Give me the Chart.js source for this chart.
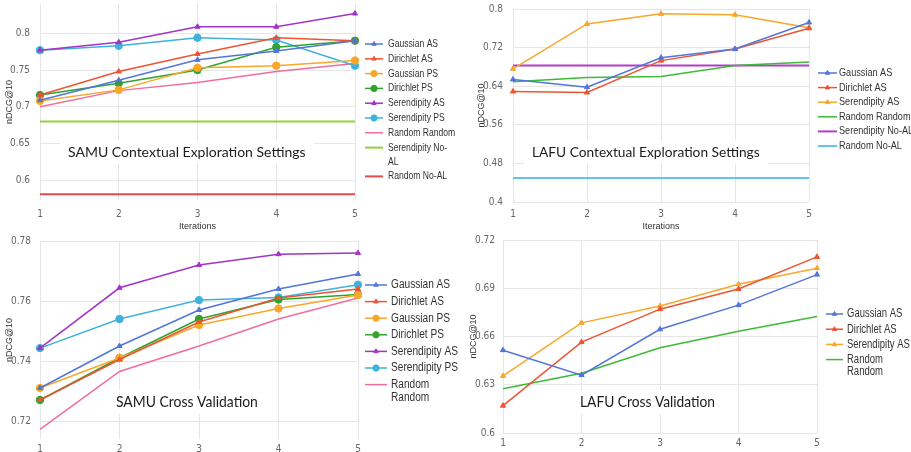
<!DOCTYPE html>
<html>
<head>
<meta charset="utf-8">
<script src="https://cdn.jsdelivr.net/npm/chart.js@4/dist/chart.umd.min.js"></script>
<style>
    html, body { margin: 0; padding: 0; background: #fff; }
    #wrap { position: relative; width: 911px; height: 452px; overflow: hidden; }
    .panel { position: absolute; }
    .panel canvas { display: block; }
</style>
</head>
<body>
<div id="wrap">
    <div class="panel" style="left:0;top:0"><canvas id="c1" width="460" height="232"></canvas></div>
    <div class="panel" style="left:460px;top:0"><canvas id="c2" width="451" height="232"></canvas></div>
    <div class="panel" style="left:0;top:232px"><canvas id="c3" width="460" height="220"></canvas></div>
    <div class="panel" style="left:460px;top:232px"><canvas id="c4" width="451" height="220"></canvas></div>
</div>
<script>
/* nDCG@10 over active learning iterations — 4 panels */

const iterations = ['1', '2', '3', '4', '5'];

// --- SAMU contextual exploration ---
const samuCtxTitle = 'SAMU Contextual Exploration Settings';
const samuCtxTicks = [0.6, 0.65, 0.7, 0.75, 0.8];
const samuCtxGaussianAS = [0.709, 0.736, 0.764, 0.776, 0.790];
const samuCtxDirichletAS = [0.716, 0.748, 0.772, 0.794, 0.790];
const samuCtxGaussianPS = [0.708, 0.723, 0.753, 0.756, 0.763];
const samuCtxDirichletPS = [0.716, 0.732, 0.750, 0.781, 0.790];
const samuCtxSerendipityAS = [0.777, 0.788, 0.809, 0.809, 0.827];
const samuCtxSerendipityPS = [0.777, 0.783, 0.794, 0.791, 0.756];
const samuCtxRandomRandom = [0.700, 0.722, 0.733, 0.748, 0.759];
const samuCtxSerendipityNoAL = [0.680, 0.680, 0.680, 0.680, 0.680];
const samuCtxRandomNoAL = [0.581, 0.581, 0.581, 0.581, 0.581];

// --- LAFU contextual exploration ---
const lafuCtxTitle = 'LAFU Contextual Exploration Settings';
const lafuCtxTicks = [0.4, 0.48, 0.56, 0.64, 0.72, 0.8];
const lafuCtxGaussianAS = [0.654, 0.638, 0.699, 0.717, 0.772];
const lafuCtxDirichletAS = [0.629, 0.627, 0.693, 0.717, 0.760];
const lafuCtxSerendipityAS = [0.676, 0.769, 0.790, 0.788, 0.761];
const lafuCtxRandomRandom = [0.649, 0.658, 0.660, 0.683, 0.690];
const lafuCtxSerendipityNoAL = [0.683, 0.683, 0.683, 0.683, 0.683];
const lafuCtxRandomNoAL = [0.450, 0.450, 0.450, 0.450, 0.450];

// --- SAMU cross validation ---
const samuCvTitle = 'SAMU Cross Validation';
const samuCvTicks = [0.72, 0.74, 0.76, 0.78];
const samuCvGaussianAS = [0.731, 0.745, 0.757, 0.764, 0.769];
const samuCvDirichletAS = [0.727, 0.7405, 0.753, 0.761, 0.764];
const samuCvGaussianPS = [0.731, 0.741, 0.752, 0.7575, 0.762];
const samuCvDirichletPS = [0.727, 0.741, 0.754, 0.7605, 0.7622];
const samuCvSerendipityAS = [0.7443, 0.7644, 0.772, 0.7756, 0.776];
const samuCvSerendipityPS = [0.7443, 0.754, 0.7603, 0.7612, 0.7654];
const samuCvRandomRandom = [0.7172, 0.7365, 0.745, 0.754, 0.761];

// --- LAFU cross validation ---
const lafuCvTitle = 'LAFU Cross Validation';
const lafuCvTicks = [0.6, 0.63, 0.66, 0.69, 0.72];
const lafuCvGaussianAS = [0.6515, 0.636, 0.6645, 0.6795, 0.6985];
const lafuCvDirichletAS = [0.617, 0.6565, 0.677, 0.6895, 0.7095];
const lafuCvSerendipityAS = [0.6355, 0.6685, 0.679, 0.6925, 0.7025];
const lafuCvRandomRandom = [0.6275, 0.6372, 0.653, 0.6632, 0.6725];

// --- Styling ---

Chart.defaults.font.family = "'Liberation Sans', Arial, Helvetica, sans-serif";
Chart.defaults.animation = false;

const TICK_FONT = "'Liberation Sans Narrow', 'DejaVu Sans Condensed', 'Liberation Sans', Arial, sans-serif";

const COL = {
    blue: '#5276d8',
    red: '#ec5432',
    orange: '#f8a72a',
    green: '#2ea42e',
    purple: '#a234c6',
    cyan: '#3fb2dc',
    pink: '#f06d9c',
    lime: '#93d040',
    crimson: '#e24c4c',
    green2: '#3cbb36',
    purple2: '#b43ccc',
    cyan2: '#62c4e6',
};

function series(label, data, color, marker, width) {
    return {
        label,
        data,
        borderColor: color,
        backgroundColor: color,
        borderWidth: width || 1.5,
        pointStyle: marker || 'circle',
        pointRadius: marker ? (marker === 'triangle' ? 3 : 3.7) : 0,
        pointHoverRadius: 0,
        pointBorderWidth: 1,
        tension: 0,
        clip: false,
    };
}

// squeezed text (the source figure is narrower than it is tall)
function squeezeText(ctx, text, x, y, sq) {
    ctx.save();
    ctx.translate(x, y);
    ctx.scale(sq, 1);
    ctx.fillText(text, 0, 0);
    ctx.restore();
}

// legend drawn at the right, line sample with marker in the middle
const sideLegend = {
    id: 'sideLegend',
    afterDraw(chart, args, opts) {
        const ctx = chart.ctx;
        ctx.save();
        ctx.font = opts.font;
        ctx.textBaseline = 'middle';
        let y = opts.y0;
        chart.data.datasets.forEach(ds => {
            ctx.strokeStyle = ds.borderColor;
            ctx.lineWidth = ds.borderWidth;
            ctx.beginPath();
            ctx.moveTo(opts.x0, y);
            ctx.lineTo(opts.x1, y);
            ctx.stroke();
            if (ds.pointRadius > 0) {
                ctx.fillStyle = ds.borderColor;
                ctx.lineWidth = 1;
                Chart.helpers.drawPoint(ctx, {
                    pointStyle: ds.pointStyle,
                    radius: ds.pointRadius * 0.85,
                    rotation: 0,
                    borderWidth: 1,
                }, (opts.x0 + opts.x1) / 2, y);
            }
            const lines = (opts.breaks && opts.breaks[ds.label]) || [ds.label];
            ctx.fillStyle = '#333';
            lines.forEach((t, i) => squeezeText(ctx, t, opts.tx, y + i * opts.wrapDy, opts.squeeze));
            y += opts.dy + (lines.length - 1) * opts.wrapDy;
        });
        ctx.restore();
    }
};

// caption sitting on the plot in a white box
const boxTitle = {
    id: 'boxTitle',
    beforeDatasetsDraw(chart, args, opts) {
        const ctx = chart.ctx;
        ctx.save();
        ctx.font = opts.font;
        const w = ctx.measureText(opts.text).width * opts.squeeze;
        ctx.fillStyle = '#fff';
        ctx.fillRect(opts.x - 8, opts.y - 12, w + 16, 24);
        ctx.fillStyle = '#1c1c1c';
        ctx.textBaseline = 'middle';
        squeezeText(ctx, opts.text, opts.x, opts.y, opts.squeeze);
        ctx.restore();
    }
};

function makeChart(id, p) {
    return new Chart(document.getElementById(id), {
        type: 'line',
        data: { labels: iterations, datasets: p.datasets },
        plugins: [boxTitle, sideLegend],
        options: {
            responsive: false,
            events: [],
            layout: { autoPadding: false, padding: { top: p.top, right: p.right, left: 0, bottom: 0 } },
            plugins: {
                legend: { display: false },
                tooltip: { enabled: false },
                boxTitle: p.title,
                sideLegend: p.legend,
            },
            scales: {
                x: {
                    type: 'category',
                    offset: false,
                    grid: { color: '#e6e6e6', drawTicks: false },
                    border: { display: false },
                    ticks: { color: '#666', font: { size: 10, family: TICK_FONT }, padding: p.xPad, maxRotation: 0 },
                    title: {
                        display: p.xTitle,
                        text: 'Iterations',
                        color: '#333',
                        font: { size: 9 },
                        padding: 0,
                    },
                    afterFit: s => {
                        s.height = p.xHeight;
                        s.paddingLeft = 0;
                        s.paddingRight = 0;
                    },
                },
                y: {
                    min: p.min,
                    max: p.max,
                    afterBuildTicks: s => { s.ticks = p.ticks.map(v => ({ value: v })); },
                    grid: { color: '#e6e6e6', drawTicks: false },
                    border: { display: false },
                    ticks: {
                        color: '#666',
                        font: { size: 10, family: TICK_FONT },
                        padding: p.yPad,
                        callback: v => String(+v.toFixed(2)),
                    },
                    title: {
                        display: true,
                        text: 'nDCG@10',
                        color: '#333',
                        font: { size: 9 },
                        padding: { top: p.yTitleOff, bottom: 0 },
                    },
                    afterFit: s => {
                        s.width = p.yWidth;
                        s.paddingTop = 0;
                        s.paddingBottom = 0;
                    },
                },
            },
        },
    });
}

makeChart('c1', {
    datasets: [
        series('Gaussian AS', samuCtxGaussianAS, COL.blue, 'triangle'),
        series('Dirichlet AS', samuCtxDirichletAS, COL.red, 'triangle'),
        series('Gaussian PS', samuCtxGaussianPS, COL.orange, 'circle'),
        series('Dirichlet PS', samuCtxDirichletPS, COL.green, 'circle'),
        series('Serendipity AS', samuCtxSerendipityAS, COL.purple, 'triangle'),
        series('Serendipity PS', samuCtxSerendipityPS, COL.cyan, 'circle'),
        series('Random Random', samuCtxRandomRandom, COL.pink, null),
        series('Serendipity No-AL', samuCtxSerendipityNoAL, COL.lime, null, 2),
        series('Random No-AL', samuCtxRandomNoAL, COL.crimson, null, 2),
    ],
    min: 0.573, max: 0.84, ticks: samuCtxTicks,
    top: 4, right: 105, xHeight: 32, xPad: 8, xTitle: true,
    yWidth: 40, yPad: 10, yTitleOff: 4,
    title: { text: samuCtxTitle, x: 68, y: 152, font: '14px Lato', squeeze: 1 },
    legend: {
        x0: 365, x1: 383, tx: 388, y0: 44, dy: 14.8, wrapDy: 14, squeeze: 0.78,
        font: '11px "Liberation Sans", Arial',
        breaks: { 'Serendipity No-AL': ['Serendipity No-', 'AL'] },
    },
});

makeChart('c2', {
    datasets: [
        series('Gaussian AS', lafuCtxGaussianAS, COL.blue, 'triangle'),
        series('Dirichlet AS', lafuCtxDirichletAS, COL.red, 'triangle'),
        series('Serendipity AS', lafuCtxSerendipityAS, COL.orange, 'triangle'),
        series('Random Random', lafuCtxRandomRandom, COL.green2, null),
        series('Serendipity No-AL', lafuCtxSerendipityNoAL, COL.purple2, null, 2),
        series('Random No-AL', lafuCtxRandomNoAL, COL.cyan2, null, 2),
    ],
    min: 0.4, max: 0.8, ticks: lafuCtxTicks,
    top: 9, right: 102, xHeight: 30, xPad: 6, xTitle: true,
    yWidth: 53, yPad: 10, yTitleOff: 16,
    title: { text: lafuCtxTitle, x: 72, y: 152, font: '14px Lato', squeeze: 0.98 },
    legend: {
        x0: 358, x1: 377, tx: 379, y0: 73, dy: 14.6, wrapDy: 14, squeeze: 0.83,
        font: '11px "Liberation Sans", Arial',
    },
});

makeChart('c3', {
    datasets: [
        series('Gaussian AS', samuCvGaussianAS, COL.blue, 'triangle'),
        series('Dirichlet AS', samuCvDirichletAS, COL.red, 'triangle'),
        series('Gaussian PS', samuCvGaussianPS, COL.orange, 'circle'),
        series('Dirichlet PS', samuCvDirichletPS, COL.green, 'circle'),
        series('Serendipity AS', samuCvSerendipityAS, COL.purple, 'triangle'),
        series('Serendipity PS', samuCvSerendipityPS, COL.cyan, 'circle'),
        series('Random Random', samuCvRandomRandom, COL.pink, null),
    ],
    min: 0.714, max: 0.78, ticks: samuCvTicks,
    top: 9, right: 102, xHeight: 13, xPad: 4, xTitle: false,
    yWidth: 40, yPad: 9, yTitleOff: 4,
    title: { text: samuCvTitle, x: 116, y: 170, font: '16px Lato', squeeze: 0.87 },
    legend: {
        x0: 365, x1: 387, tx: 391, y0: 53, dy: 16.6, wrapDy: 13, squeeze: 0.81,
        font: '12.5px "Liberation Sans", Arial',
        breaks: { 'Random Random': ['Random', 'Random'] },
    },
});

makeChart('c4', {
    datasets: [
        series('Gaussian AS', lafuCvGaussianAS, COL.blue, 'triangle'),
        series('Dirichlet AS', lafuCvDirichletAS, COL.red, 'triangle'),
        series('Serendipity AS', lafuCvSerendipityAS, COL.orange, 'triangle'),
        series('Random Random', lafuCvRandomRandom, COL.green2, null),
    ],
    min: 0.6, max: 0.72, ticks: lafuCvTicks,
    top: 8, right: 94, xHeight: 19, xPad: 4, xTitle: false,
    yWidth: 43, yPad: 8, yTitleOff: 8,
    title: { text: lafuCvTitle, x: 120, y: 170, font: '16px Lato', squeeze: 0.86 },
    legend: {
        x0: 366, x1: 383, tx: 387, y0: 82, dy: 15.2, wrapDy: 11.5, squeeze: 0.76,
        font: '12.5px "Liberation Sans", Arial',
        breaks: { 'Random Random': ['Random', 'Random'] },
    },
});
</script>
</body>
</html>
